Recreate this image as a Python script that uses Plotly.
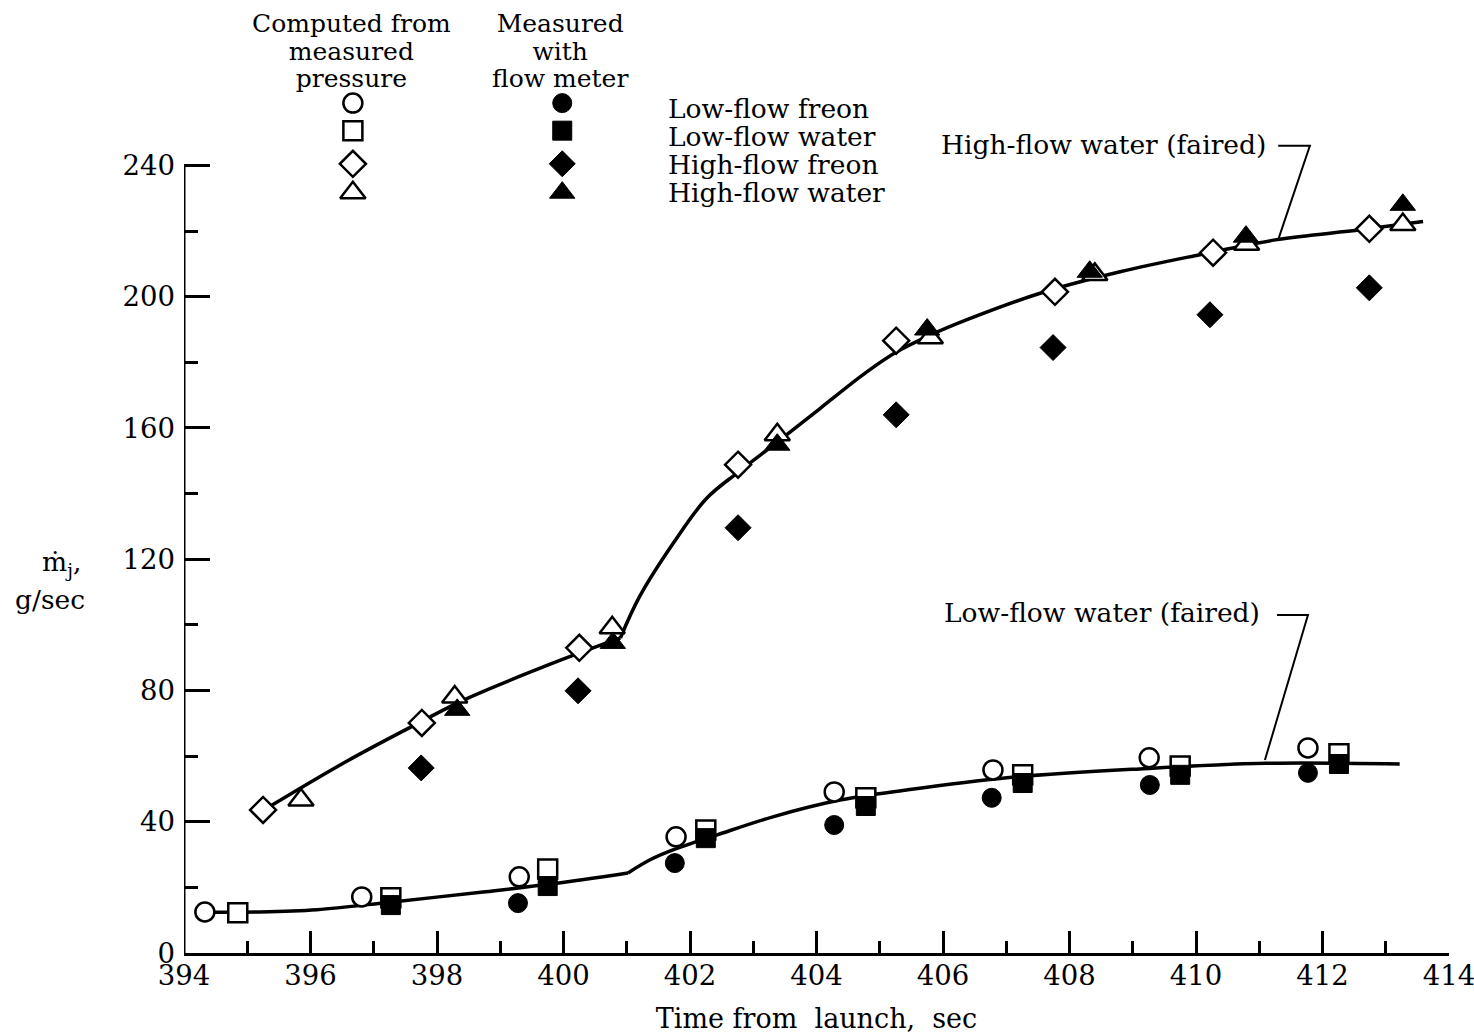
import plotly.graph_objects as go

# ---- measured / computed jet mass-flow data (time from launch, sec ; g/sec) ----
lf_freon_calc_t = [394.33, 396.81, 399.30, 401.78, 404.28, 406.79, 409.26, 411.77]
lf_freon_calc_m = [12.5, 17.1, 23.2, 35.4, 49.1, 55.8, 59.5, 62.5]
lf_freon_meas_t = [399.28, 401.76, 404.28, 406.77, 409.27, 411.77]
lf_freon_meas_m = [15.2, 27.4, 39.0, 47.3, 51.2, 54.9]

lf_water_calc_t = [394.85, 397.27, 399.75, 402.25, 404.78, 407.26, 409.75, 412.26]
lf_water_calc_m = [12.3, 16.8, 25.6, 37.5, 47.3, 54.3, 57.0, 60.7]
lf_water_meas_t = [397.27, 399.75, 402.25, 404.78, 407.26, 409.75, 412.26]
lf_water_meas_m = [14.6, 20.4, 35.0, 44.8, 51.8, 54.3, 57.6]

hf_freon_calc_t = [395.25, 397.76, 400.25, 402.76, 405.26, 407.77, 410.27, 412.74]
hf_freon_calc_m = [43.6, 70.1, 93.0, 148.8, 186.6, 201.5, 213.4, 220.7]
hf_freon_meas_t = [397.75, 400.23, 402.76, 405.26, 407.74, 410.22, 412.74]
hf_freon_meas_m = [56.4, 79.9, 129.6, 164.0, 184.5, 194.5, 202.7]

hf_water_calc_t = [395.85, 398.28, 400.77, 403.38, 405.80, 408.40, 410.80, 413.27]
hf_water_calc_m = [46.6, 78.0, 99.1, 157.9, 187.5, 206.8, 216.0, 222.0]
hf_water_meas_t = [398.32, 400.78, 403.38, 405.75, 408.32, 410.79, 413.27]
hf_water_meas_m = [74.1, 94.5, 154.9, 190.0, 207.6, 218.3, 228.0]

# faired curves (two pieces each, joined at the break in slope near 401 sec)
hf_fair_a_t = [395.30, 396.58, 397.70, 398.41, 399.79, 400.90]
hf_fair_a_m = [44.0, 58.5, 70.0, 77.0, 88.0, 96.0]
hf_fair_b_t = [400.90, 401.20, 401.74, 402.26, 402.76, 403.40, 404.06, 404.79, 405.27,
               405.80, 406.38, 407.56, 408.80, 410.06, 411.28, 412.60, 413.59]
hf_fair_b_m = [96.0, 108.5, 125.0, 138.5, 146.5, 156.0, 166.0, 177.0, 183.2,
               188.3, 193.0, 201.2, 207.6, 212.8, 217.4, 220.4, 222.9]

lf_fair_a_t = [394.40, 395.20, 396.10, 397.26, 398.73, 399.79, 401.02]
lf_fair_a_m = [12.4, 12.5, 13.2, 15.5, 18.6, 21.0, 24.4]
lf_fair_b_t = [401.02, 401.37, 401.73, 402.43, 403.31, 404.37, 405.43, 407.01, 409.11,
               411.09, 413.22]
lf_fair_b_m = [24.4, 28.4, 31.4, 36.0, 41.5, 46.6, 49.7, 53.4, 56.1, 57.8, 57.6]

x_major = [394, 396, 398, 400, 402, 404, 406, 408, 410, 412, 414]
x_minor = [395, 397, 399, 401, 403, 405, 407, 409, 411, 413]
y_major = [0, 40, 80, 120, 160, 200, 240]
y_minor = [20, 60, 100, 140, 180, 220]

series_names = ["Low-flow freon", "Low-flow water", "High-flow freon", "High-flow water"]
symbols = ["circle", "square", "diamond", "triangle-up"]
col_heads = [["Computed from", "measured", "pressure"],
             ["Measured", "with", "flow meter"]]

X_RANGE = [394, 414]
Y_RANGE = [0, 270]

FONT = "DejaVu Serif"
TXT = 26.5
TICK = 27.5
BLACK = "black"

fig = go.Figure()

# faired curves
for t, m in [(hf_fair_a_t, hf_fair_a_m), (hf_fair_b_t, hf_fair_b_m),
             (lf_fair_a_t, lf_fair_a_m), (lf_fair_b_t, lf_fair_b_m)]:
    fig.add_trace(go.Scatter(x=t, y=m, mode="lines",
                             line=dict(color=BLACK, width=3.5, shape="spline", smoothing=1.0),
                             showlegend=False, hoverinfo="skip"))

sizes = {"circle": 19, "square": 19, "diamond": 20, "triangle-up": 22}


def open_marks(t, m, sym):
    fig.add_trace(go.Scatter(x=t, y=m, mode="markers", showlegend=False,
                             marker=dict(symbol=sym, size=sizes[sym], color="white",
                                         line=dict(color=BLACK, width=2.5))))


def filled_marks(t, m, sym):
    fig.add_trace(go.Scatter(x=t, y=m, mode="markers", showlegend=False,
                             marker=dict(symbol=sym, size=sizes[sym], color=BLACK,
                                         line=dict(color=BLACK, width=1))))


open_marks(lf_freon_calc_t, lf_freon_calc_m, "circle")
open_marks(lf_water_calc_t, lf_water_calc_m, "square")
open_marks(hf_freon_calc_t, hf_freon_calc_m, "diamond")
open_marks(hf_water_calc_t, hf_water_calc_m, "triangle-up")
filled_marks(lf_freon_meas_t, lf_freon_meas_m, "circle")
filled_marks(lf_water_meas_t, lf_water_meas_m, "square")
filled_marks(hf_freon_meas_t, hf_freon_meas_m, "diamond")
filled_marks(hf_water_meas_t, hf_water_meas_m, "triangle-up")

# key: two symbol columns and a label column above the plot
key_rows = [259.0, 250.6, 240.5, 231.7]
for name, sym, yk in zip(series_names, symbols, key_rows):
    open_marks([396.67], [yk], sym)
    filled_marks([399.98], [yk], sym)

annotations = []


def to_paper(x, y):
    return ((x - X_RANGE[0]) / (X_RANGE[1] - X_RANGE[0]),
            (y - Y_RANGE[0]) / (Y_RANGE[1] - Y_RANGE[0]))


def txt(x, y, s, anchor="center", size=TXT, align="center"):
    # placed in paper units so text outside the axis ranges is still shown
    px, py = to_paper(x, y)
    annotations.append(dict(x=px, y=py, xref="paper", yref="paper", text=s,
                            showarrow=False, xanchor=anchor, yanchor="middle",
                            align=align,
                            font=dict(family=FONT, size=size, color=BLACK)))


def block(lines, glyph_px, pitch_px):
    # multi-line text: the base size sets the line pitch, the span sets the glyph size
    return "<br>".join(f"<span style='font-size:{glyph_px}px'>{s}</span>" for s in lines), pitch_px / 1.3


heads_txt, heads_size = block(col_heads[0], 25, 27.5)
txt(396.65, 275.0, heads_txt, size=heads_size)
heads_txt, heads_size = block(col_heads[1], 25, 27.5)
txt(399.95, 275.0, heads_txt, size=heads_size)

names_txt, names_size = block(series_names, TXT, 28)
txt(401.62, 244.5, names_txt, anchor="left", size=names_size, align="left")

txt(411.14, 246.3, "High-flow water (faired)", anchor="right")
txt(411.04, 103.7, "Low-flow water (faired)", anchor="right")

# y-axis caption
txt(392.07, 118.6, "ṁ<sub>j</sub>,")
txt(391.88, 107.6, "g/sec")

shapes = [
    # left axis line, drawn only up to the last labelled tick
    dict(type="line", xref="x", yref="y", x0=394, x1=394, y0=0, y1=240,
         line=dict(color=BLACK, width=3)),
    # leader for the high-flow faired curve
    dict(type="path", xref="x", yref="y",
         path="M 411.30 246.0 L 411.80 246.0 L 411.30 217.4",
         line=dict(color=BLACK, width=2)),
    # leader for the low-flow faired curve
    dict(type="path", xref="x", yref="y",
         path="M 411.28 103.0 L 411.77 103.0 L 411.09 58.8",
         line=dict(color=BLACK, width=2)),
]

fig.update_layout(
    width=1474, height=1035, autosize=False,
    margin=dict(l=184, r=25, t=67, b=82, autoexpand=False),
    paper_bgcolor="white", plot_bgcolor="white",
    font=dict(family=FONT, size=TXT, color=BLACK),
    annotations=annotations, shapes=shapes,
    showlegend=False,
)

fig.update_xaxes(
    range=X_RANGE, showgrid=False, zeroline=False, automargin=False,
    showline=True, linecolor=BLACK, linewidth=3,
    tickmode="array", tickvals=x_major, ticktext=[str(v) for v in x_major],
    ticks="inside", ticklen=22, tickwidth=2.5, tickcolor=BLACK,
    tickfont=dict(family=FONT, size=TICK, color=BLACK),
    ticklabelstandoff=-4, ticklabeloverflow="allow",
    minor=dict(tickmode="array", tickvals=x_minor, ticks="inside", ticklen=12,
               tickwidth=2.5, tickcolor=BLACK, showgrid=False),
    title=dict(text="Time from\u00a0 launch,\u00a0 sec", standoff=20,
               font=dict(family=FONT, size=27, color=BLACK)),
)
fig.update_yaxes(
    range=Y_RANGE, showgrid=False, zeroline=False, showline=False, automargin=False,
    tickmode="array", tickvals=y_major, ticktext=[str(v) for v in y_major],
    ticks="inside", ticklen=26, tickwidth=2.5, tickcolor=BLACK,
    tickfont=dict(family=FONT, size=TICK, color=BLACK),
    ticklabelstandoff=8, ticklabeloverflow="allow",
    minor=dict(tickmode="array", tickvals=y_minor, ticks="inside", ticklen=14,
               tickwidth=2.5, tickcolor=BLACK, showgrid=False),
)

fig.write_html("out.html")
